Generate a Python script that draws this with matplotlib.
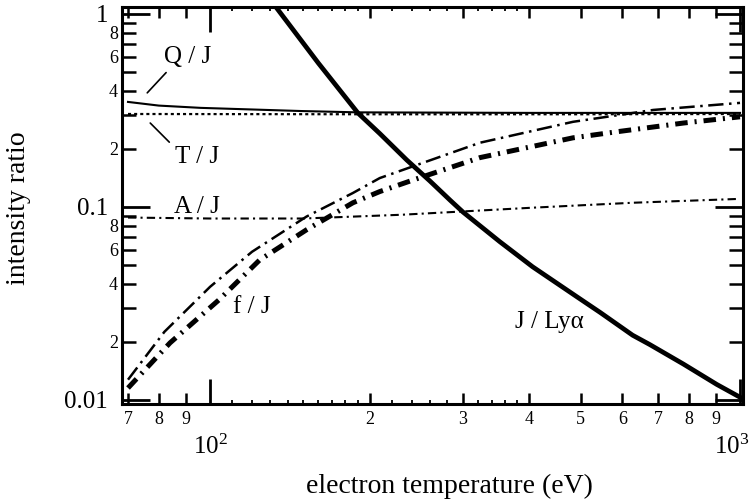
import matplotlib.pyplot as plt
from matplotlib.ticker import NullLocator
from matplotlib.transforms import ScaledTranslation

plt.rcParams['font.family'] = ['Liberation Serif', 'DejaVu Serif']
plt.rcParams['mathtext.fontset'] = 'custom'
plt.rcParams['mathtext.rm'] = 'Liberation Serif'
plt.rcParams['lines.scale_dashes'] = False

# electron temperature (eV) and intensity ratios
te_q = [70, 80, 96, 128, 148, 190, 400, 1000]
q_j = [0.350, 0.335, 0.326, 0.318, 0.314, 0.309, 0.307, 0.307]

te_t = [70, 200, 500, 1000]
t_j = [0.303, 0.302, 0.302, 0.303]

te_a = [70, 100, 150, 230, 406, 627, 1000]
a_j = [0.088, 0.087, 0.087, 0.091, 0.099, 0.105, 0.110]

te_f1 = [70, 82, 100, 120, 152, 186, 209, 323, 484, 686, 1000]
f_j1 = [0.0127, 0.0225, 0.0385, 0.0585, 0.089, 0.118, 0.141, 0.215, 0.276, 0.318, 0.346]

te_f2 = [70, 84, 104, 124, 152, 186, 209, 242, 323, 484, 585, 782, 1000]
f_j2 = [0.0115, 0.0197, 0.033, 0.053, 0.076, 0.105, 0.12, 0.138, 0.18, 0.228, 0.245, 0.272, 0.293]

te_ly = [133, 160, 190, 209, 235, 260, 284, 300, 352, 406, 492, 545, 627, 676, 782, 904, 1000]
j_ly = [1.09, 0.557, 0.307, 0.240, 0.175, 0.136, 0.108, 0.094, 0.066, 0.0489, 0.0342,
        0.0283, 0.0216, 0.0193, 0.0153, 0.0120, 0.0103]

x_major = [100, 1000]
x_major_lab = [r'$\mathregular{10^2}$', r'$\mathregular{10^3}$']
x_minor = [70, 80, 90, 200, 300, 400, 500, 600, 700, 800, 900]
x_minor_lab = ['7', '8', '9', '2', '3', '4', '5', '6', '7', '8', '9']
x_tiny = [110, 120, 130, 140, 150, 160, 170, 180, 190, 220, 240, 260, 280, 320, 340, 360, 380]
y_major = [0.01, 0.1, 1]
y_major_lab = ['0.01', '0.1', '1']
y_minor = [m * d for d in (0.01, 0.1) for m in range(2, 10)]
y_minor_lab = [str(m) if m % 2 == 0 else '' for d in (0.01, 0.1) for m in range(2, 10)]

fig = plt.figure(figsize=(7.56, 5.0), dpi=100)
ax = fig.add_axes([0.1614, 0.192, 0.8214, 0.794])
ax.set_xscale('log')
ax.set_yscale('log')

ax.plot(te_q, q_j, color='black', lw=1.5)
ax.plot(te_t, t_j, color='black', lw=1.6, linestyle=(0, (2.2, 2.2)))
ax.plot(te_a, a_j, color='black', lw=1.5, linestyle=(0, (6, 3, 1.5, 3)))
ax.plot(te_f1, f_j1, color='black', lw=1.8, linestyle=(0, (11, 4, 1.8, 4)))
ax.plot(te_f2, f_j2, color='black', lw=3.6, linestyle=(0, (9, 5, 1.5, 5)))
ax.plot(te_ly, j_ly, color='black', lw=3.4)

ax.set_xlim(68.2, 1013)
ax.set_ylim(0.0095, 1.087)

ax.set_xticks(x_major, labels=x_major_lab)
ax.set_xticks(x_minor, labels=x_minor_lab, minor=True)
ax.set_yticks(y_major, labels=y_major_lab)
ax.set_yticks(y_minor, labels=y_minor_lab, minor=True)

ax.tick_params(which='both', direction='in', top=True, right=True, colors='black')
ax.tick_params(axis='x', which='major', length=18, width=2, labelsize=18, pad=22)
ax.tick_params(axis='x', which='minor', length=8, width=1.8, labelsize=13, pad=5)
ax.tick_params(axis='y', which='major', length=20, width=2, labelsize=18, pad=10)
ax.tick_params(axis='y', which='minor', length=10, width=1.8, labelsize=13, pad=3)
for s in ax.spines.values():
    s.set_linewidth(2.2)

# keep 10^3 inside the picture
last = ax.xaxis.get_major_ticks()[-1].label1
last.set_transform(last.get_transform() + ScaledTranslation(-8 / 100, 0, fig.dpi_scale_trans))

# the very small ticks between 100 and 400 on bottom and top
for side in ('bottom', 'top'):
    sec = ax.secondary_xaxis(side)
    sec.set_xticks(x_tiny, labels=[''] * len(x_tiny))
    sec.xaxis.set_minor_locator(NullLocator())
    sec.tick_params(direction='in', length=3, width=1.3)
    sec.spines[side].set_visible(False)

ax.set_xlabel('electron temperature (eV)', fontsize=20)
ax.xaxis.set_label_coords(0.527, -0.175)
ax.set_ylabel('intensity ratio', fontsize=20)
ax.yaxis.set_label_coords(-0.147, 0.494)

lab = dict(fontsize=18, ha='center', va='center')
line = dict(arrowstyle='-', lw=1.2, color='black', shrinkB=0)
ax.annotate('Q / J', xy=(76.1, 0.39), xytext=(90.5, 0.6), arrowprops=dict(line, relpos=(0.15, 0.0), shrinkA=2), **lab)
ax.annotate('T / J', xy=(77.1, 0.272), xytext=(94.5, 0.182), arrowprops=dict(line, relpos=(0.0, 0.9), shrinkA=3), **lab)
ax.text(94.5, 0.1, 'A / J', **lab)
ax.text(120, 0.0303, 'f / J', **lab)
ax.text(436, 0.0254, 'J / Ly\u03b1', **lab)

fig.savefig('out.png', dpi=100)
